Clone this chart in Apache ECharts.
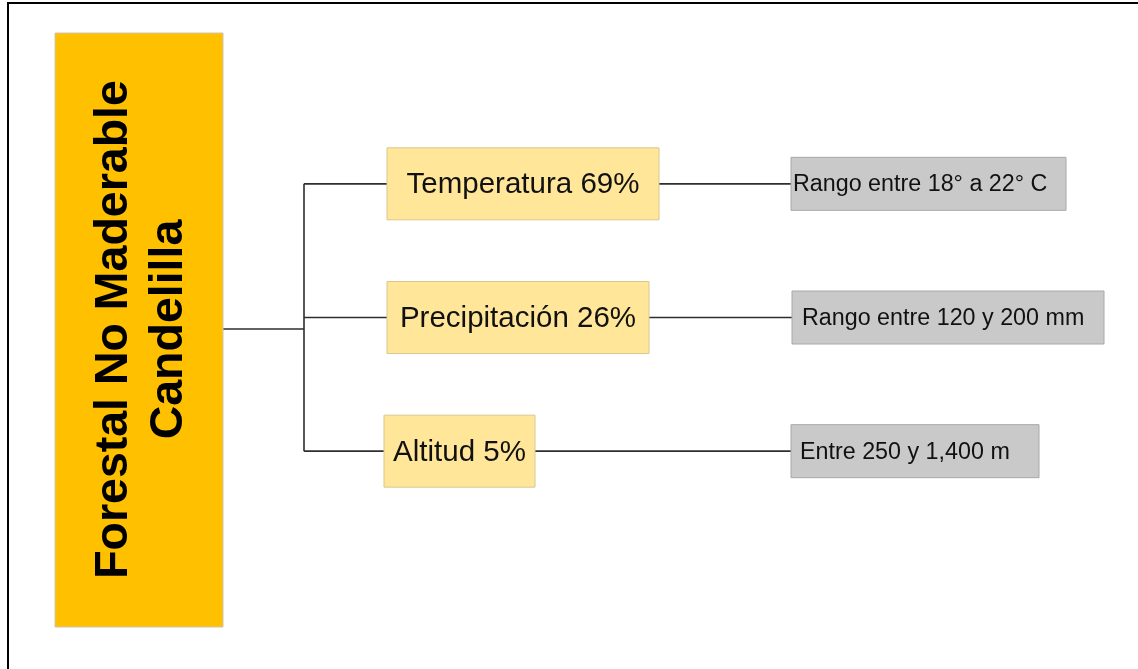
<!DOCTYPE html>
<html>
<head>
<meta charset="utf-8">
<script src="https://cdn.jsdelivr.net/npm/echarts@6/dist/echarts.min.js"></script>
<style>
  html, body { margin: 0; padding: 0; background: #ffffff; }
  #chart { width: 1138px; height: 669px; }
</style>
</head>
<body>
<div id="chart"></div>
<script>
// ---- data ----
const rootLines = ['Forestal No Maderable', 'Candelilla'];
const factors = ['Temperatura', 'Precipitación', 'Altitud'];
const shares = [69, 26, 5];
const ranges = ['Rango entre 18° a 22° C', 'Rango entre 120 y 200 mm', 'Entre 250 y 1,400 m'];

// ---- layout (diagram geometry, in x-axis units) ----
const FONT = '"Liberation Sans", Arial, Helvetica, sans-serif';
const rootBox = { x0: 55, x1: 223, h: 594, dy: 12.5 };
const trunkX = 304;
const factorBoxX = [[387, 659], [387, 649], [384, 535]];
const factorBoxH = 72;
const rangeBoxX = [[791, 1066], [792, 1104], [791, 1039]];
const rangeBoxH = 53;
const rangeTextPad = [2, 10, 9];

const LINE = { stroke: '#2e2e2e', lineWidth: 1.6 };

const chart = echarts.init(document.getElementById('chart'), null, { renderer: 'canvas' });

function rowRender(params, api) {
  const i = api.value(1);
  const yc = api.coord([0, i])[1];
  const px = (v) => api.coord([v, i])[0];
  const fb = factorBoxX[i], rb = rangeBoxX[i];
  const fx0 = px(fb[0]), fx1 = px(fb[1]);
  const rx0 = px(rb[0]), rx1 = px(rb[1]);
  return {
    type: 'group',
    children: [
      { type: 'line', shape: { x1: px(trunkX), y1: yc, x2: fx0, y2: yc }, style: LINE },
      { type: 'line', shape: { x1: fx1, y1: yc, x2: rx0, y2: yc }, style: LINE },
      { type: 'rect', shape: { x: fx0, y: yc - factorBoxH / 2, width: fx1 - fx0, height: factorBoxH },
        style: { fill: '#FFE699', stroke: '#D8C88E', lineWidth: 1 } },
      { type: 'text', x: (fx0 + fx1) / 2, y: yc + 1.5,
        style: { text: factors[i] + ' ' + shares[i] + '%', x: 0, y: 0, fill: '#111',
                 fontSize: 29.5, fontFamily: FONT, align: 'center', verticalAlign: 'middle' } },
      { type: 'rect', shape: { x: rx0, y: yc - rangeBoxH / 2, width: rx1 - rx0, height: rangeBoxH },
        style: { fill: '#C9C9C9', stroke: '#A8A8A8', lineWidth: 1 } },
      { type: 'text', x: rx0 + rangeTextPad[i], y: yc + 1,
        style: { text: ranges[i], x: 0, y: 0, fill: '#111',
                 fontSize: 23.3, fontFamily: FONT, align: 'left', verticalAlign: 'middle' } }
    ]
  };
}

function rootRender(params, api) {
  const n = factors.length;
  const yTop = api.coord([0, 0])[1];
  const yBot = api.coord([0, n - 1])[1];
  const yc = (yTop + yBot) / 2 + rootBox.dy;
  const x0 = api.coord([rootBox.x0, 0])[0];
  const x1 = api.coord([rootBox.x1, 0])[0];
  const tx = api.coord([trunkX, 0])[0];
  return {
    type: 'group',
    children: [
      { type: 'line', shape: { x1: tx, y1: yTop, x2: tx, y2: yBot }, style: LINE },
      { type: 'line', shape: { x1: x1, y1: yc - 1, x2: tx, y2: yc - 1 }, style: LINE },
      { type: 'rect', shape: { x: x0, y: yc - rootBox.h / 2, width: x1 - x0, height: rootBox.h },
        style: { fill: '#FFC000', stroke: '#CFC6B0', lineWidth: 1 } },
      { type: 'text', x: (x0 + x1) / 2 + 3, y: yc - 0.5, rotation: Math.PI / 2,
        style: { text: rootLines.join('\n'), x: 0, y: 0, fill: '#000', fontWeight: 'bold',
                 fontSize: 46.5, lineHeight: 55, fontFamily: FONT, align: 'center', verticalAlign: 'middle' } }
    ]
  };
}

chart.setOption({
  animation: false,
  backgroundColor: '#ffffff',
  grid: { left: 0, right: 0, top: 117, bottom: 151, containLabel: false },
  xAxis: { type: 'value', min: 0, max: 1138, show: false },
  yAxis: { type: 'category', data: factors, inverse: true, show: false },
  graphic: [
    { type: 'line', shape: { x1: 7, y1: 3, x2: 1138, y2: 3 }, style: { stroke: '#000', lineWidth: 2 } },
    { type: 'line', shape: { x1: 8, y1: 2, x2: 8, y2: 669 }, style: { stroke: '#000', lineWidth: 2 } }
  ],
  series: [
    { type: 'custom', name: 'root', clip: false, renderItem: rootRender, data: [[0, 1]],
      encode: { x: 0, y: 1 }, silent: true },
    { type: 'custom', name: 'factores', clip: false, renderItem: rowRender,
      data: factors.map((f, i) => [shares[i], i]), encode: { x: 0, y: 1 }, silent: true, z: 3 }
  ]
});
</script>
</body>
</html>
